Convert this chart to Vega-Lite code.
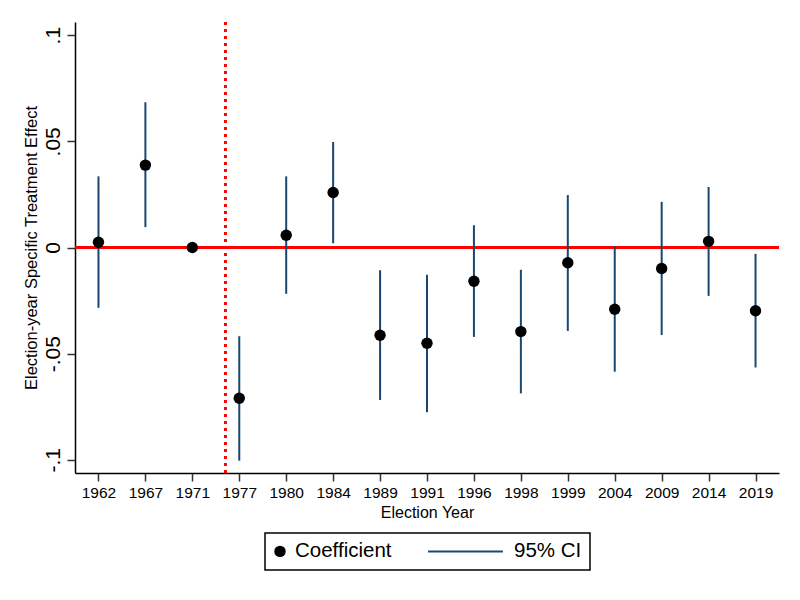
{
  "$schema": "https://vega.github.io/schema/vega-lite/v6.json",
  "width": 704,
  "height": 451,
  "autosize": {"type": "none"},
  "padding": {"left": 75, "top": 22, "right": 21, "bottom": 127},
  "background": "white",
  "config": {
    "font": "Liberation Sans",
    "view": {"stroke": null},
    "axis": {
      "grid": false,
      "domainColor": "black",
      "domainWidth": 1.5,
      "tickColor": "#333333",
      "tickWidth": 1.5,
      "tickSize": 8,
      "labelColor": "black",
      "titleColor": "black",
      "titleFontWeight": "normal"
    },
    "legend": {"strokeWidth": 1.5}
  },
  "data": {
    "values": [
      {"pos": 1, "year": "1962", "coef": 0.0025, "lo": -0.0284, "hi": 0.0335},
      {"pos": 2, "year": "1967", "coef": 0.0388, "lo": 0.0096, "hi": 0.0684},
      {"pos": 3, "year": "1971", "coef": 0, "lo": null, "hi": null},
      {"pos": 4, "year": "1977", "coef": -0.0710, "lo": -0.1004, "hi": -0.0418},
      {"pos": 5, "year": "1980", "coef": 0.0058, "lo": -0.0218, "hi": 0.0335},
      {"pos": 6, "year": "1984", "coef": 0.0259, "lo": 0.0020, "hi": 0.0497},
      {"pos": 7, "year": "1989", "coef": -0.0413, "lo": -0.0718, "hi": -0.0107},
      {"pos": 8, "year": "1991", "coef": -0.0451, "lo": -0.0776, "hi": -0.0128},
      {"pos": 9, "year": "1996", "coef": -0.0159, "lo": -0.0421, "hi": 0.0105},
      {"pos": 10, "year": "1998", "coef": -0.0396, "lo": -0.0687, "hi": -0.0105},
      {"pos": 11, "year": "1999", "coef": -0.0072, "lo": -0.0393, "hi": 0.0247},
      {"pos": 12, "year": "2004", "coef": -0.0291, "lo": -0.0585, "hi": 0.0005},
      {"pos": 13, "year": "2009", "coef": -0.0099, "lo": -0.0412, "hi": 0.0215},
      {"pos": 14, "year": "2014", "coef": 0.0029, "lo": -0.0228, "hi": 0.0285},
      {"pos": 15, "year": "2019", "coef": -0.0298, "lo": -0.0565, "hi": -0.0030}
    ]
  },
  "encoding": {
    "x": {
      "field": "pos",
      "type": "quantitative",
      "scale": {"domain": [0.5, 15.5], "nice": false, "zero": false},
      "axis": {
        "title": "Election Year",
        "values": [1, 2, 3, 4, 5, 6, 7, 8, 9, 10, 11, 12, 13, 14, 15],
        "labelExpr": "['1962','1967','1971','1977','1980','1984','1989','1991','1996','1998','1999','2004','2009','2014','2019'][datum.value - 1]",
        "labelFontSize": 15.5,
        "labelPadding": 4,
        "titleFontSize": 16,
        "titlePadding": 4,
        "labelFlush": false
      }
    }
  },
  "layer": [
    {
      "mark": {"type": "rule", "color": "#ff0000", "strokeWidth": 1.6},
      "encoding": {"y": {"datum": 0, "type": "quantitative"}, "x": null}
    },
    {
      "mark": {"type": "rule", "color": "#ff0000", "strokeWidth": 2, "strokeDash": [3, 4]},
      "encoding": {"x": {"datum": 3.7, "type": "quantitative"}}
    },
    {
      "mark": {"type": "rule", "strokeWidth": 2},
      "encoding": {
        "y": {
          "field": "lo",
          "type": "quantitative",
          "scale": {"domain": [-0.1062, 0.1062], "nice": false, "zero": false},
          "axis": {
            "title": "Election-year Specific Treatment Effect",
            "values": [-0.1, -0.05, 0, 0.05, 0.1],
            "labelExpr": "datum.value == 0 ? '0' : (datum.value < 0 ? '-' : '') + '.' + replace(format(abs(datum.value), '.2~f'), '0.', '')",
            "labelAngle": -90,
            "labelFontSize": 21,
            "labelPadding": 4,
            "titleFontSize": 16.5,
            "titlePadding": 3
          }
        },
        "y2": {"field": "hi"},
        "color": {
          "datum": "95% CI",
          "scale": {"domain": ["Coefficient", "95% CI"], "range": ["black", "#1a476f"]},
          "legend": {
            "title": null,
            "orient": "none",
            "legendX": 190,
            "legendY": 511,
            "direction": "horizontal",
            "strokeColor": "black",
            "padding": 8,
            "labelFontSize": 20.5,
            "labelColor": "black",
            "columnPadding": 32,
            "encode": {
              "symbols": {
                "update": {
                  "shape": {"signal": "datum.value === 'Coefficient' ? 'circle' : 'stroke'"},
                  "size": {"signal": "datum.value === 'Coefficient' ? 130 : 5600"},
                  "x": {"signal": "datum.value === 'Coefficient' ? 7 : 37.5"},
                  "fill": {"signal": "datum.value === 'Coefficient' ? 'black' : 'transparent'"},
                  "stroke": {"signal": "datum.value === 'Coefficient' ? 'black' : '#1a476f'"},
                  "strokeWidth": {"signal": "datum.value === 'Coefficient' ? 0 : 2"},
                  "opacity": {"value": 1}
                }
              },
              "labels": {
                "update": {
                  "x": {"signal": "datum.value === 'Coefficient' ? 22 : 86"}
                }
              }
            }
          }
        }
      }
    },
    {
      "mark": {"type": "point", "filled": true, "opacity": 1, "size": 130},
      "encoding": {
        "y": {"field": "coef", "type": "quantitative"},
        "color": {"datum": "Coefficient"}
      }
    }
  ]
}
